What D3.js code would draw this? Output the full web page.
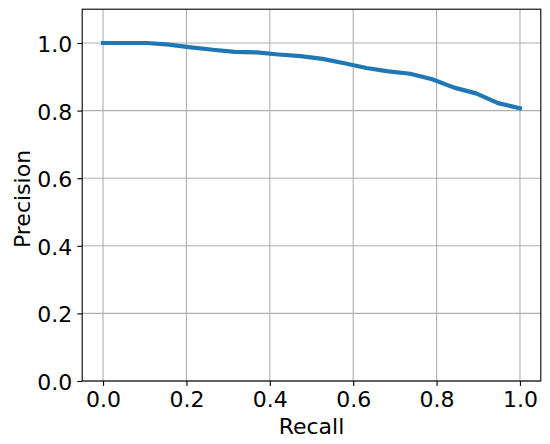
<!DOCTYPE html>
<html>
<head>
<meta charset="utf-8">
<script src="https://cdn.jsdelivr.net/npm/d3@7"></script>
<style>
  html, body { margin: 0; padding: 0; background: #fff; }
  svg { display: block; }
  text { font-family: "DejaVu Sans", sans-serif; fill: #000; }
</style>
</head>
<body>
<svg id="chart" width="550" height="444"></svg>
<script>
const recall = [0, 0.0526, 0.1053, 0.1579, 0.2105, 0.2632, 0.3158, 0.3684, 0.4211, 0.4737,
                0.5263, 0.5789, 0.6316, 0.6842, 0.7368, 0.7895, 0.8421, 0.8947, 0.9474, 1.0];
const precision = [1.0, 1.0, 1.0, 0.995, 0.987, 0.980, 0.974, 0.972, 0.966, 0.961,
                   0.953, 0.940, 0.926, 0.916, 0.909, 0.893, 0.868, 0.851, 0.822, 0.807];
const xTicks = [0, 0.2, 0.4, 0.6, 0.8, 1.0];
const yTicks = [0, 0.2, 0.4, 0.6, 0.8, 1.0];
const xLabel = "Recall";
const yLabel = "Precision";

const svg = d3.select("#chart");
const pLeft = 82.2, pRight = 540.8, pTop = 9.2, pBottom = 381;
const fs = "22px";

const x = d3.scaleLinear().domain([-0.05, 1.05]).range([pLeft, pRight]);
const y = d3.scaleLinear().domain([0, 1.1]).range([pBottom, pTop]);

// grid
const grid = svg.append("g");
grid.selectAll(".gx").data(xTicks).enter().append("line")
  .attr("x1", d => x(d)).attr("x2", d => x(d))
  .attr("y1", pTop).attr("y2", pBottom)
  .attr("stroke", "#b0b0b0").attr("stroke-width", 1.1);
grid.selectAll(".gy").data(yTicks).enter().append("line")
  .attr("x1", pLeft).attr("x2", pRight)
  .attr("y1", d => y(d)).attr("y2", d => y(d))
  .attr("stroke", "#b0b0b0").attr("stroke-width", 1.1);

// line
const line = d3.line().x((d, i) => x(recall[i])).y(d => y(d));
svg.append("path").datum(precision)
  .attr("d", line)
  .attr("fill", "none")
  .attr("stroke", "#1f77b4")
  .attr("stroke-width", 4.2)
  .attr("stroke-linejoin", "round")
  .attr("stroke-linecap", "square");

// axes
const xAxis = d3.axisBottom(x).tickValues(xTicks).tickFormat(d3.format(".1f")).tickSize(4.9).tickPadding(5);
const yAxis = d3.axisLeft(y).tickValues(yTicks).tickFormat(d3.format(".1f")).tickSize(4.9).tickPadding(5);

const gx = svg.append("g").attr("transform", `translate(0,${pBottom})`).call(xAxis);
const gy = svg.append("g").attr("transform", `translate(${pLeft},0)`).call(yAxis);
[gx, gy].forEach(g => {
  g.select(".domain").remove();
  g.selectAll(".tick line").attr("stroke", "#000").attr("stroke-width", 1.1);
  g.selectAll(".tick text").style("font-size", fs).style("font-family", "DejaVu Sans").attr("fill", "#000");
});
gx.selectAll(".tick text").attr("dy", 0).attr("y", 26);
gy.selectAll(".tick text").attr("dy", "0.39em");

// frame
svg.append("rect")
  .attr("x", pLeft).attr("y", pTop)
  .attr("width", pRight - pLeft).attr("height", pBottom - pTop)
  .attr("fill", "none").attr("stroke", "#000").attr("stroke-width", 1.1);

// labels
svg.append("text")
  .attr("x", (pLeft + pRight) / 2).attr("y", 434)
  .attr("text-anchor", "middle")
  .style("font-size", fs)
  .text(xLabel);
svg.append("text")
  .attr("transform", `translate(29.5,199) rotate(-90)`)
  .attr("text-anchor", "middle")
  .style("font-size", fs)
  .text(yLabel);
</script>
</body>
</html>
